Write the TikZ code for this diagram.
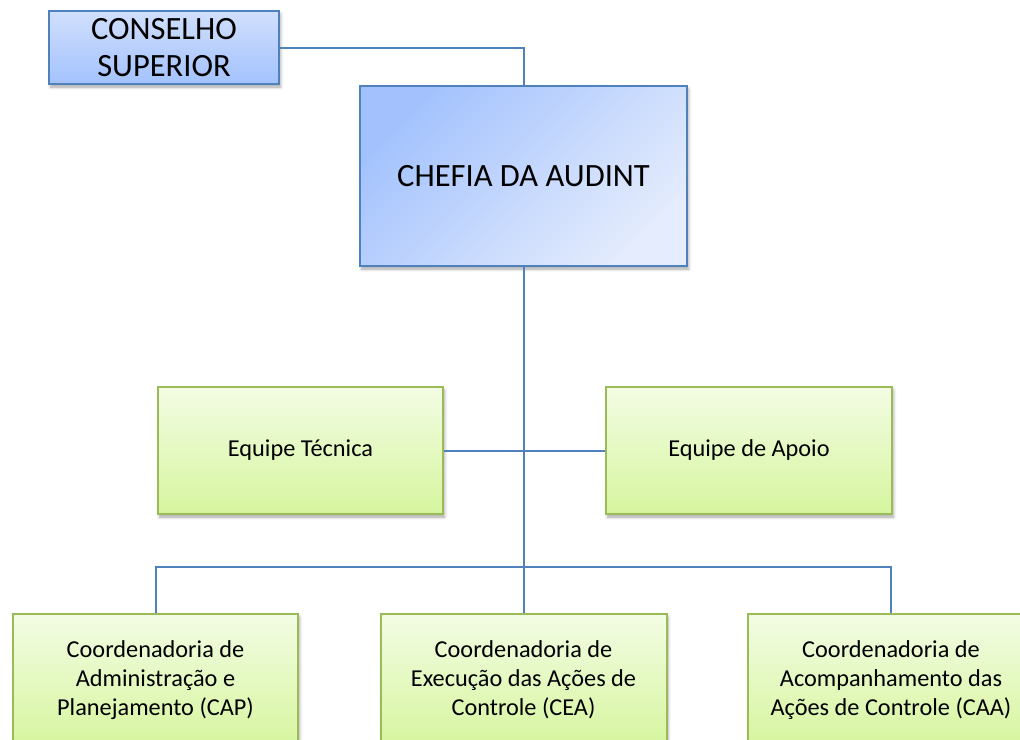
\documentclass[tikz,border=0pt]{standalone}
\usepackage{fontspec}
\setmainfont{Carlito}
\usetikzlibrary{shadows.blur}
\definecolor{lineblue}{RGB}{79,129,189}
\definecolor{bluedark}{RGB}{163,194,253}
\definecolor{bluelight}{RGB}{228,236,253}
\definecolor{greenline}{RGB}{155,187,89}
\definecolor{greentop}{RGB}{243,252,228}
\definecolor{greenbot}{RGB}{214,245,158}
\tikzset{
  bluebox/.style={draw=lineblue, line width=2pt, top color=bluedark, bottom color=bluelight, shading angle=45,
    blur shadow={shadow xshift=1.5pt, shadow yshift=-3pt, shadow blur radius=3pt, shadow opacity=35},
    inner sep=0pt, align=center},
  consbox/.style={draw=lineblue, line width=2pt, top color=bluelight!70!bluedark, bottom color=bluedark,
    blur shadow={shadow xshift=1.5pt, shadow yshift=-3pt, shadow blur radius=3pt, shadow opacity=35},
    inner sep=0pt, align=center},
  greenbox/.style={draw=greenline, line width=2pt, top color=greentop, bottom color=greenbot,
    blur shadow={shadow xshift=1.5pt, shadow yshift=-3pt, shadow blur radius=3pt, shadow opacity=35},
    inner sep=0pt, align=center},
  conn/.style={draw=lineblue, line width=2pt},
  bigtext/.style={font=\fontsize{32.5}{37}\selectfont},
  smalltext/.style={font=\fontsize{24.3}{29}\selectfont}
}
\begin{document}
\begin{tikzpicture}[x=1pt,y=-1pt]
\useasboundingbox (0,0) rectangle (1020,739);
\node[consbox, bigtext, minimum width=230pt, minimum height=73pt] (cons) at (164,47.5) {CONSELHO\\SUPERIOR};
\node[bluebox, bigtext, minimum width=327pt, minimum height=180pt] (chefia) at (523.5,176) {CHEFIA DA AUDINT};
\node[greenbox, smalltext, minimum width=285pt, minimum height=127pt] (tec) at (300.5,450.5) {Equipe Técnica};
\node[greenbox, smalltext, minimum width=286pt, minimum height=127pt] (apoio) at (749,450.5) {Equipe de Apoio};
\node[greenbox, smalltext, minimum width=285pt, minimum height=132pt] (cap) at (155.5,680) {Coordenadoria de\\Administração e\\Planejamento (CAP)};
\node[greenbox, smalltext, minimum width=286pt, minimum height=132pt] (cea) at (523.5,680) {Coordenadoria de\\Execução das Ações de\\Controle (CEA)};
\node[greenbox, smalltext, minimum width=286pt, minimum height=132pt] (caa) at (891,680) {Coordenadoria de\\Acompanhamento das\\Ações de Controle (CAA)};
\coordinate (j) at (523.5,567);
\draw[conn] (cons.east) -| (chefia.north);
\draw[conn] (chefia.south) -- (j);
\draw[conn] (tec.east) -- (apoio.west);
\draw[conn] (cap.north) |- (j) -| (caa.north);
\draw[conn] (j) -- (cea.north);
\end{tikzpicture}
\end{document}
